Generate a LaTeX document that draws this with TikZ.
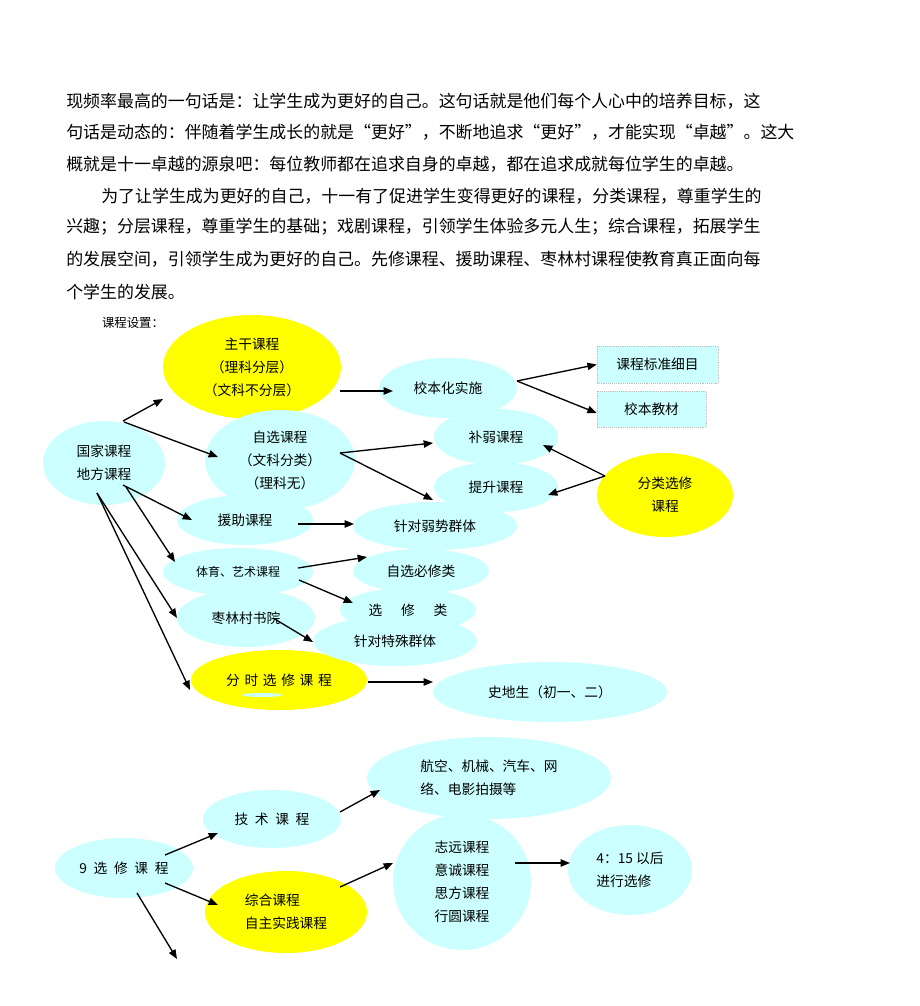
\documentclass[tikz,border=0pt]{standalone}
\usepackage{fontspec}
\setmainfont{Noto Sans CJK SC}
\usetikzlibrary{shapes.geometric, positioning, calc, arrows.meta}

\definecolor{lcyan}{RGB}{204,255,255}
\definecolor{lyell}{RGB}{255,255,0}

\tikzset{
	bub/.style 2 args={ellipse, inner sep=0pt, align=center,
		minimum width=#1*0.75pt, minimum height=#2*0.75pt,
		font=\fontsize{10.3pt}{17.3pt}\selectfont},
	cyanbub/.style 2 args={bub={#1}{#2}, fill=lcyan},
	yelbub/.style 2 args={bub={#1}{#2}, fill=lyell},
	boxnode/.style 2 args={rectangle, fill=lcyan, draw=black!25, densely dotted,
		minimum width=#1*0.75pt, minimum height=#2*0.75pt,
		font=\fontsize{10.3pt}{12pt}\selectfont},
	ptext/.style={anchor=west, inner sep=0pt, font=\fontsize{12.7pt}{15pt}\selectfont},
}

\begin{document}
\begin{tikzpicture}[x=0.75pt, y=-0.75pt, >={Triangle[length=7pt,width=5.5pt]}]
	\path[use as bounding box, fill=white] (0,0) rectangle (920,1006);

	% text above the chart
	\node[ptext] (p1) at (66,101) {现频率最高的一句话是：让学生成为更好的自己。这句话就是他们每个人心中的培养目标，这};
	\node[ptext] (p2) at (66,132) {句话是动态的：伴随着学生成长的就是“更好”，不断地追求“更好”，才能实现“卓越”。这大};
	\node[ptext] (p3) at (66,164) {概就是十一卓越的源泉吧：每位教师都在追求自身的卓越，都在追求成就每位学生的卓越。};
	\node[ptext] (p4) at (101,196) {为了让学生成为更好的自己，十一有了促进学生变得更好的课程，分类课程，尊重学生的};
	\node[ptext] (p5) at (66,227) {兴趣；分层课程，尊重学生的基础；戏剧课程，引领学生体验多元人生；综合课程，拓展学生};
	\node[ptext] (p6) at (66,259) {的发展空间，引领学生成为更好的自己。先修课程、援助课程、枣林村课程使教育真正面向每};
	\node[ptext] (p7) at (66,292) {个学生的发展。};
	\node[inner sep=0pt, font=\fontsize{9.3pt}{11pt}\selectfont] (kcsz) at (133,323) {课程设置：};

	% upper chart
	\node[yelbub={178}{104}] (zgkc) at (252,367) {主干课程\\（理科分层）\\（文科不分层）};
	\node[cyanbub={150}{100}] (zxkc) at (280,460) {自选课程\\（文科分类）\\（理科无）};
	\node[cyanbub={122}{84}, align=left] (gjkc) at (104,463) {国家课程\\地方课程};
	\node[cyanbub={136}{50}] (yzkc) at (245,520) {援助课程};
	\node[cyanbub={138}{60}] (xbh) at (448,388) {校本化实施};
	\node[boxnode={121}{37}] (kcbz) at (657.5,364.5) {课程标准细目};
	\node[boxnode={109}{36}] (xbjc) at (651.5,409) {校本教材};
	\node[cyanbub={124}{56}] (brkc) at (496,437) {补弱课程};
	\node[cyanbub={124}{50}] (tskc) at (496,487) {提升课程};
	\node[yelbub={136}{84}] (flxx) at (665,495) {分类选修\\课程};
	\node[cyanbub={164}{48}] (rsqt) at (435,526) {针对弱势群体};
	\node[yelbub={176}{60}] (fsxx) at (279,680) {分\hspace{3.5pt}时\hspace{3.5pt}选\hspace{3.5pt}修\hspace{3.5pt}课\hspace{3.5pt}程};
	\fill[lcyan] (262,695) ellipse [x radius=20, y radius=2];
	\node[cyanbub={150}{48}, font=\fontsize{9pt}{11pt}\selectfont] (tyys) at (238,572) {体育、艺术课程};
	\node[cyanbub={138}{58}] (zlc) at (246,618) {枣林村书院};
	\node[cyanbub={136}{44}] (zxbx) at (421,571) {自选必修类};
	\node[cyanbub={136}{44}] (xxl) at (408,610) {选\hspace{14pt}修\hspace{14pt}类};
	\node[cyanbub={164}{50}] (tsqt) at (395,641) {针对特殊群体};
	\node[cyanbub={234}{60}] (sds) at (550,692) {史地生（初一、二）};

	% lower chart
	\node[cyanbub={138}{60}] (xxkc) at (124,868) {9\hspace{5pt}选\hspace{5pt}修\hspace{5pt}课\hspace{5pt}程};
	\node[cyanbub={138}{58}] (jskc) at (272,819) {技\hspace{5pt}术\hspace{5pt}课\hspace{5pt}程};
	\node[yelbub={162}{82}, align=left] (zhkc) at (286,912) {综合课程\\自主实践课程};
	\node[cyanbub={244}{82}, align=left] (hkjx) at (489,778) {航空、机械、汽车、网\\络、电影拍摄等};
	\node[cyanbub={138}{136}, align=left] (zykc) at (462,882) {志远课程\\意诚课程\\思方课程\\行圆课程};
	\node[cyanbub={124}{90}, align=left] (xxsj) at (630,870) {4：15 以后\\进行选修};
	\coordinate (xxend) at (177,959);

	\path [->, line width=1pt]
		($(gjkc)+(19,-42)$) edge ($(zgkc)+(-89,32)$)
		($(gjkc)+(20,-41)$) edge ($(zxkc)+(-62,-3)$)
		($(gjkc)+(19,22)$) edge ($(yzkc)+(-53,0)$)
		($(gjkc)+(22,24)$) edge ($(tyys)+(-63,-10)$)
		($(gjkc)+(-7,30)$) edge ($(zlc)+(-69,0)$)
		($(gjkc)+(-7,30)$) edge ($(fsxx)+(-89,10)$)
		($(zgkc)+(88,24)$) edge ($(xbh)+(-55,3)$)
		($(xbh)+(69,-7)$) edge (kcbz.west)
		($(xbh)+(69,-7)$) edge ($(xbjc.west)+(0,4)$)
		($(zxkc)+(60,-7)$) edge ($(brkc)+(-63,6)$)
		($(zxkc)+(60,-7)$) edge ($(tskc)+(-63,13)$)
		($(flxx)+(-60,-19)$) edge ($(brkc)+(47,8)$)
		($(flxx)+(-60,-19)$) edge ($(tskc)+(52,8)$)
		($(yzkc)+(53,4)$) edge ($(rsqt)+(-81,-2)$)
		($(tyys)+(60,-4)$) edge ($(zxbx)+(-54,-14)$)
		($(tyys)+(61,8)$) edge ($(xxl)+(-55,-7)$)
		($(zlc)+(27,0)$) edge ($(tsqt)+(-82,1)$)
		($(fsxx)+(89,2)$) edge ($(sds)+(-117,-10)$)

		($(xxkc)+(41,-13)$) edge ($(jskc)+(-54,14)$)
		($(xxkc)+(41,15)$) edge ($(zhkc)+(-68,-7)$)
		($(xxkc)+(13,25)$) edge (xxend)
		($(jskc)+(68,-7)$) edge ($(hkjx)+(-109,12)$)
		($(zhkc)+(54,-25)$) edge ($(zykc)+(-69,-19)$)
		($(zykc)+(53,-19)$) edge ($(xxsj)+(-60,-7)$)
		;
\end{tikzpicture}
\end{document}
